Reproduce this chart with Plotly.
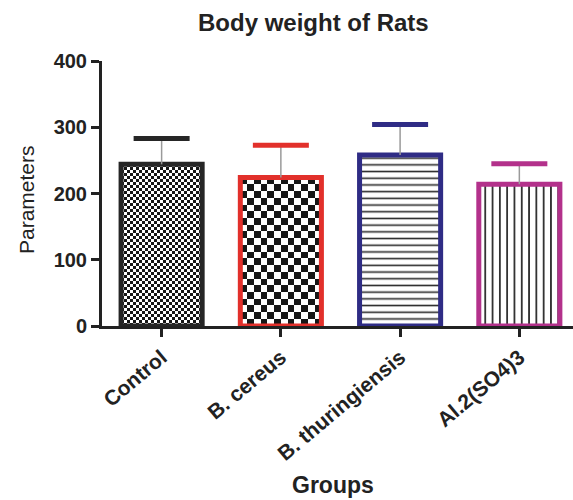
import numpy as np
import plotly.graph_objects as go

# ---- data ----
groups = ["Control", "B. cereus", "B. thuringiensis", "Al.2(SO4)3"]
mean_weight = [244, 224, 258, 214]
sd_weight = [39, 49, 46, 31]

# ---- styling ----
edge_colors = ["#262626", "#e2302b", "#2f2c85", "#b3318b"]
fill_kind = ["fine_checker", "checker", "hstripes", "vstripes"]
BAR_W = 0.68
FONT = "Liberation Sans"
INK = "#222222"

W, H = 573, 500
ML, MR, MT, MB = 102, 0, 61, 174
X_RANGE = [-0.5, 3.45]
Y_RANGE = [0, 400]
px_per_x = (W - ML - MR) / (X_RANGE[1] - X_RANGE[0])
px_per_y = (H - MT - MB) / (Y_RANGE[1] - Y_RANGE[0])

fig = go.Figure()

# checkerboard textures, sized to each bar's extent
checker_cell_px = {"fine_checker": 3.0, "checker": 6.7}
for i, (kind, m) in enumerate(zip(fill_kind, mean_weight)):
    if kind not in checker_cell_px:
        continue
    cell = checker_cell_px[kind]
    nx = max(1, int(round(BAR_W * px_per_x / cell)))
    ny = max(1, int(round(m * px_per_y / cell)))
    xe = np.linspace(i - BAR_W / 2, i + BAR_W / 2, nx + 1)
    ye = np.linspace(0, m, ny + 1)
    z = (np.add.outer(np.arange(ny), np.arange(nx)) % 2).astype(float)
    fig.add_trace(go.Heatmap(
        x=xe, y=ye, z=z, zsmooth=False, showscale=False,
        colorscale=[[0, "#ffffff"], [1, "#161616"]], zmin=0, zmax=1,
        hoverinfo="skip",
    ))

# bars: one trace per group so each gets its own fill
stripe_style = {"hstripes": ("-", 6.7), "vstripes": ("|", 7.3)}
for i, (g, m, kind, col) in enumerate(zip(groups, mean_weight, fill_kind, edge_colors)):
    marker = dict(line=dict(color=col, width=5))
    if kind in stripe_style:
        shp, sz = stripe_style[kind]
        marker["color"] = "#ffffff"
        marker["pattern"] = dict(shape=shp, fillmode="replace",
                                 fgcolor="#2a2a2a", bgcolor="#ffffff",
                                 size=sz, solidity=0.24)
    else:
        marker["color"] = "rgba(0,0,0,0)"
    fig.add_trace(go.Bar(x=[i], y=[m], width=BAR_W, name=g,
                         marker=marker, hoverinfo="skip"))

# error bar stems
fig.add_trace(go.Scatter(
    x=list(range(len(groups))), y=mean_weight, mode="markers",
    marker=dict(size=0.1, color="rgba(0,0,0,0)"),
    error_y=dict(type="data", array=sd_weight, arrayminus=[0] * len(groups),
                 symmetric=False, color="#9a9a9a", thickness=1.5, width=0),
    hoverinfo="skip",
))

# error bar caps
fig.add_trace(go.Scatter(
    x=list(range(len(groups))),
    y=[m + s for m, s in zip(mean_weight, sd_weight)],
    mode="markers",
    marker=dict(symbol="line-ew", size=40,
                line=dict(color=edge_colors, width=5)),
    hoverinfo="skip", cliponaxis=False,
))

axis_common = dict(
    showline=True, linewidth=3, linecolor=INK,
    ticks="outside", ticklen=8, tickwidth=3, tickcolor=INK,
    showgrid=False, zeroline=False,
)

fig.update_layout(
    width=W, height=H,
    margin=dict(l=ML, r=MR, t=MT, b=MB),
    paper_bgcolor="white", plot_bgcolor="white",
    showlegend=False, barmode="overlay",
    xaxis=dict(range=X_RANGE, tickvals=list(range(len(groups))),
               ticktext=groups, tickangle=-40,
               tickfont=dict(family=FONT, size=21, color=INK, weight="bold"),
               **axis_common),
    yaxis=dict(range=Y_RANGE, tickvals=[0, 100, 200, 300, 400],
               tickfont=dict(family=FONT, size=20, color=INK, weight="bold"),
               **axis_common),
)

def px_to_paper_x(px):
    return (px - ML) / (W - ML - MR)

def px_to_paper_y(py):
    return (H - MB - py) / (H - MT - MB)

fig.add_annotation(
    text="Body weight of Rats", xref="paper", yref="paper",
    x=px_to_paper_x(313), y=px_to_paper_y(22), xanchor="center", yanchor="middle",
    showarrow=False, font=dict(family=FONT, size=24, color=INK, weight="bold"),
)
fig.add_annotation(
    text="Parameters", xref="paper", yref="paper", textangle=-90,
    x=px_to_paper_x(26), y=px_to_paper_y(200), xanchor="center", yanchor="middle",
    showarrow=False, font=dict(family=FONT, size=21, color=INK),
)
fig.add_annotation(
    text="Groups", xref="paper", yref="paper",
    x=px_to_paper_x(333), y=px_to_paper_y(485), xanchor="center", yanchor="middle",
    showarrow=False, font=dict(family=FONT, size=23, color=INK, weight="bold"),
)

fig.write_html("out.html")
